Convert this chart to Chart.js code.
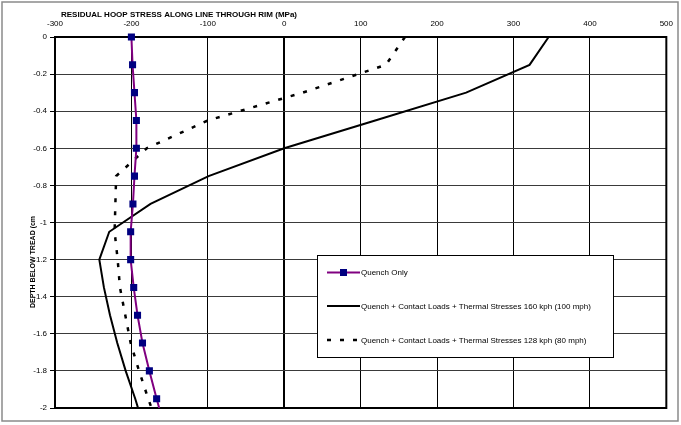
<!DOCTYPE html>
<html>
<head>
<meta charset="utf-8">
<title>Residual hoop stress along line through rim</title>
<script src="https://cdn.jsdelivr.net/npm/chart.js@4.4.1/dist/chart.umd.min.js"></script>
<style>
  html, body { margin: 0; padding: 0; background: #fff; }
  canvas { display: block; }
</style>
</head>
<body>
<canvas id="c" width="681" height="425"></canvas>
<script>
// Depth below tread (cm) at each sampled point
const depth = [0, -0.15, -0.3, -0.45, -0.6, -0.75, -0.9, -1.05, -1.2, -1.35, -1.5, -1.65, -1.8, -1.95, -2.1];

// Residual hoop stress (MPa) for each case
const quenchOnly = [-200, -198.5, -196, -193.5, -193.5, -196, -198, -201, -201, -197, -192, -185.5, -176.5, -167, -157];
const loads160 = [346, 321, 238, 119, 0, -99, -175, -229, -242, -236, -228, -218.5, -207.5, -195, -184];
const loads128 = [158, 133, 24, -100, -180, -220, -221, -222, -218, -215, -208, -201, -190, -178, -165];

const seriesLabels = [
  'Quench Only',
  'Quench + Contact Loads + Thermal Stresses 160 kph (100 mph)',
  'Quench + Contact Loads + Thermal Stresses 128 kph (80 mph)'
];

// Axis ticks and titles
const xTicks = [-300, -200, -100, 0, 100, 200, 300, 400, 500];
const yTicks = [0, -0.2, -0.4, -0.6, -0.8, -1, -1.2, -1.4, -1.6, -1.8, -2];
const xTitle = 'RESIDUAL HOOP STRESS ALONG LINE THROUGH RIM (MPa)';
const yTitle = 'DEPTH BELOW TREAD (cm';

const FONT = "'Liberation Sans', Arial, sans-serif";

const toPoints = vals => vals.map((v, i) => ({ x: v, y: depth[i] }));

// Lines stop at the plot edges; markers on the top edge stay whole
const plotClip = { left: 0, top: 6, right: 0, bottom: 0 };

// Outer frame, plot frame, axis titles and the boxed legend
const decorations = {
  id: 'decorations',
  beforeDraw(chart) {
    const ctx = chart.ctx;
    ctx.save();
    ctx.fillStyle = '#fff';
    ctx.fillRect(0, 0, chart.width, chart.height);
    ctx.strokeStyle = '#8a8a8a';
    ctx.lineWidth = 1.5;
    ctx.strokeRect(2, 2, 676, 419);
    ctx.restore();
  },
  beforeDatasetsDraw(chart) {
    const ctx = chart.ctx;
    const a = chart.chartArea;
    ctx.save();
    ctx.strokeStyle = '#000';
    ctx.lineWidth = 2;
    ctx.strokeRect(a.left, a.top, a.right - a.left, a.bottom - a.top);
    ctx.restore();
  },
  afterDraw(chart) {
    const ctx = chart.ctx;
    const a = chart.chartArea;
    ctx.save();
    ctx.fillStyle = '#000';

    // top axis title
    ctx.font = 'bold 8px ' + FONT;
    ctx.textAlign = 'left';
    ctx.textBaseline = 'middle';
    ctx.fillText(xTitle, a.left + 6, 15);

    // left axis title, rotated
    ctx.save();
    ctx.font = 'bold 7px ' + FONT;
    ctx.translate(33, 262);
    ctx.rotate(-Math.PI / 2);
    ctx.textAlign = 'center';
    ctx.fillText(yTitle, 0, 0);
    ctx.restore();

    // legend box
    const bx = 317.5, by = 255.5, bw = 296, bh = 102;
    ctx.fillStyle = '#fff';
    ctx.fillRect(bx, by, bw, bh);
    ctx.strokeStyle = '#000';
    ctx.lineWidth = 1;
    ctx.strokeRect(bx, by, bw, bh);

    const rows = [272.5, 306, 340];
    chart.data.datasets.forEach((ds, i) => {
      const y = rows[i];
      ctx.save();
      ctx.strokeStyle = ds.borderColor;
      ctx.lineWidth = ds.borderWidth;
      ctx.setLineDash(ds.borderDash || []);
      ctx.beginPath();
      ctx.moveTo(327, y);
      ctx.lineTo(360, y);
      ctx.stroke();
      ctx.restore();
      if (ds.pointRadius > 0) {
        ctx.fillStyle = ds.pointBackgroundColor;
        ctx.fillRect(343.5 - 3.5, y - 3.5, 7, 7);
      }
      ctx.fillStyle = '#000';
      ctx.font = '8px ' + FONT;
      ctx.textAlign = 'left';
      ctx.textBaseline = 'middle';
      ctx.fillText(ds.label, 361, y + 0.5);
    });
    ctx.restore();
  }
};

new Chart(document.getElementById('c'), {
  type: 'scatter',
  data: {
    datasets: [
      {
        label: seriesLabels[0],
        data: toPoints(quenchOnly),
        showLine: true,
        borderColor: '#800080',
        borderWidth: 2,
        pointStyle: 'rect',
        pointRadius: 5,
        pointBackgroundColor: '#000080',
        pointBorderColor: '#000080',
        pointBorderWidth: 0,
        clip: plotClip,
        order: 0
      },
      {
        label: seriesLabels[1],
        data: toPoints(loads160),
        showLine: true,
        borderColor: '#000',
        borderWidth: 2,
        pointRadius: 0,
        clip: plotClip,
        order: 1
      },
      {
        label: seriesLabels[2],
        data: toPoints(loads128),
        showLine: true,
        borderColor: '#000',
        borderWidth: 2.5,
        borderDash: [4, 9],
        pointRadius: 0,
        clip: plotClip,
        order: 2
      }
    ]
  },
  options: {
    responsive: false,
    animation: false,
    events: [],
    layout: { padding: { left: 0, top: 0, right: 14, bottom: 17 } },
    plugins: {
      legend: { display: false },
      title: { display: false },
      tooltip: { enabled: false }
    },
    scales: {
      x: {
        type: 'linear',
        position: 'top',
        min: -300,
        max: 500,
        afterBuildTicks(scale) { scale.ticks = xTicks.map(v => ({ value: v })); },
        afterFit(scale) { scale.height = 37; },
        border: { display: false },
        grid: {
          color: '#000',
          lineWidth: ctx => (ctx.tick && ctx.tick.value === 0 ? 2 : 1),
          drawTicks: false
        },
        ticks: {
          color: '#000',
          padding: 8,
          maxRotation: 0,
          font: { family: FONT, size: 8 },
          callback: v => String(v)
        }
      },
      y: {
        type: 'linear',
        min: -2,
        max: 0,
        afterBuildTicks(scale) { scale.ticks = yTicks.map(v => ({ value: v })); },
        afterFit(scale) { scale.width = 55; },
        border: { display: false },
        grid: {
          color: '#3a3a3a',
          lineWidth: 1,
          drawTicks: true,
          tickLength: 5,
          tickColor: '#000'
        },
        ticks: {
          color: '#000',
          padding: 3,
          font: { family: FONT, size: 8 },
          callback: v => String(v)
        }
      }
    }
  },
  plugins: [decorations]
});
</script>
</body>
</html>
